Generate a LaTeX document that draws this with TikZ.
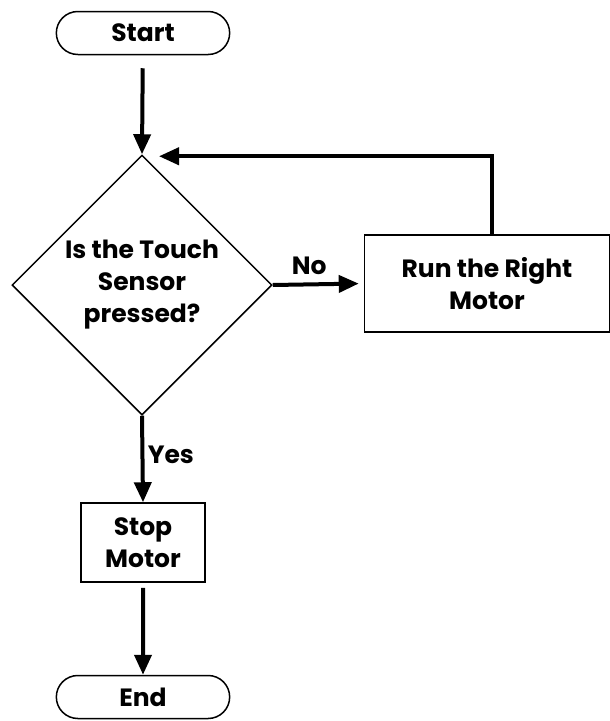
\documentclass[tikz,border=0pt]{standalone}
\usepackage{fontspec}
\setmainfont{Poppins}
\usepackage{tikz}
\usetikzlibrary{arrows.meta,positioning,shapes.geometric,shapes.misc}

\begin{document}
\begin{tikzpicture}[x=1pt,y=-1pt,font=\bfseries\fontsize{25}{32}\selectfont,
    terminal/.style={draw,line width=1.5pt,rounded rectangle,minimum width=180pt,minimum height=43pt},
    process/.style={draw,line width=1.5pt,rectangle,align=center},
    decision/.style={draw,line width=1.5pt,diamond,aspect=1,inner sep=0pt,minimum width=260pt,minimum height=260pt,align=center},
    flow/.style={line width=4pt,-{Triangle[length=20pt,width=17pt]}}
]
\useasboundingbox (0,0) rectangle (610,721);
\node[terminal] (start) at (143,33) {Start};
\node[decision] (dec) at (142,285) {Is the Touch\\Sensor\\pressed?};
\node[process,minimum width=245pt,minimum height=97pt] (run) at (487,283.5) {Run the Right\\Motor};
\node[process,minimum width=124pt,minimum height=79pt] (stop) at (143,542.5) {Stop\\Motor};
\node[terminal] (end) at (143,697) {End};
% arrows
\draw[flow,shorten <=13pt] (start) -- (dec.north);
\draw[flow,shorten >=5pt] (dec.east) -- node[above=4pt,pos=0.4] (no) {No} (run.west);
\draw[flow] ([xshift=5pt]run.north) |- ([xshift=17pt,yshift=-2pt]dec.north);
\draw[flow] (dec.south) -- node[right,pos=0.45] (yes) {Yes} (stop.north);
\draw[flow,shorten <=5pt] (stop) -- (end);
\end{tikzpicture}
\end{document}
